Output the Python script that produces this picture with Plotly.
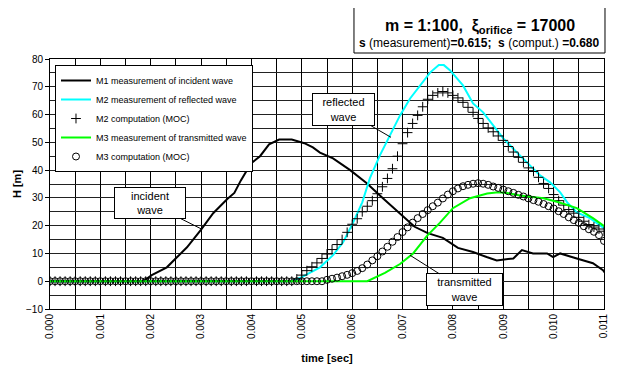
import numpy as np
import plotly.graph_objects as go

# ---------------- data ----------------
# M1 measurement of incident wave (time in s, H in m)
t_m1 = [0, 0.00185, 0.00202, 0.00232, 0.00252, 0.00272, 0.00300, 0.00324, 0.00352, 0.00366,
        0.00379, 0.00399, 0.00417, 0.00435, 0.00455, 0.00480, 0.00505, 0.00522, 0.00536,
        0.00562, 0.00596, 0.00629, 0.00661, 0.00695, 0.00724, 0.00750, 0.00780, 0.00810,
        0.00840, 0.00867, 0.00887, 0.00920, 0.00937, 0.00959, 0.00987, 0.00999, 0.01013,
        0.01046, 0.01078, 0.01098, 0.01110]
h_m1 = [0, 0, 2.2, 5.0, 8.6, 12.2, 18.6, 24.5, 29.6, 31.8,
        36.3, 42.4, 45.0, 49.3, 51.0, 51.0, 49.7, 48.2, 46.3,
        44.2, 40.0, 35.3, 29.9, 24.5, 19.6, 17.3, 15.6, 12.0,
        10.5, 8.7, 7.5, 8.2, 11.2, 10.0, 10.0, 8.7, 10.0,
        8.2, 6.5, 4.0, 1.0]

# M2 measurement of reflected wave
t_m2 = [0, 0.00480, 0.00500, 0.00536, 0.00562, 0.00582, 0.00602, 0.00620, 0.00635, 0.00655,
        0.00675, 0.00695, 0.00715, 0.00735, 0.00755, 0.00772, 0.00782, 0.00794, 0.00820,
        0.00840, 0.00860, 0.00880, 0.00900, 0.00927, 0.00953, 0.00973, 0.00993, 0.01013,
        0.01027, 0.01046, 0.01072, 0.01092, 0.01110]
h_m2 = [0, 0, 1.5, 5.0, 9.4, 14.0, 21.2, 28.4, 37.0, 45.3,
        52.5, 59.7, 65.8, 70.5, 75.2, 77.8, 77.8, 76.0, 70.5,
        64.0, 60.8, 56.1, 51.4, 46.4, 41.7, 38.1, 35.6, 32.0,
        28.4, 24.8, 22.7, 20.1, 17.8]

# M3 measurement of transmitted wave
t_m3 = [0, 0.00630, 0.00665, 0.00695, 0.00721, 0.00749, 0.00774, 0.00800, 0.00834, 0.00868,
        0.00890, 0.00907, 0.00933, 0.00980, 0.01010, 0.01046, 0.01078, 0.01110]
h_m3 = [0, 0, 3.0, 6.2, 10.0, 16.4, 21.0, 26.3, 29.9, 31.6,
        32.0, 31.8, 30.9, 29.9, 28.4, 26.3, 22.7, 18.6]

# MOC computations, sampled every 0.0001 s from 0 to 0.011 s
t_moc = np.round(np.arange(111) * 0.0001, 4)
h_m2_moc = [0] * 49 + [
    0.8, 2.2, 3.8, 5.2, 6.6, 8.2, 9.8, 11.4, 13.2, 15.0,
    17.6, 20.5, 22.5, 25.0, 27.0, 29.0, 31.5, 34.0, 37.0, 40.5,
    45.0, 49.5, 53.5, 56.8, 59.7, 62.8, 65.5, 66.9, 67.8, 68.3,
    67.8, 66.9, 66.0, 64.4, 62.6, 60.8, 58.6, 56.8, 55.2, 53.8,
    52.3, 50.7, 48.5, 46.5, 44.6, 42.8, 40.8, 39.5, 37.4, 35.2,
    33.4, 31.2, 29.0, 27.4, 25.8, 24.5, 23.0, 21.6, 20.4, 19.5,
    18.8, 18.0]
h_m3_moc = [0] * 55 + [
    0.5, 0.9, 1.3, 1.8, 2.3, 2.9, 3.7, 4.7, 6.0, 7.5,
    9.0, 10.7, 12.4, 14.2, 15.9, 17.7, 19.4, 21.1, 22.7, 24.2,
    25.6, 27.0, 28.3, 29.8, 31.2, 32.4, 33.4, 34.2, 34.7, 35.1,
    35.3, 35.1, 34.7, 34.1, 33.6, 33.0, 32.4, 31.8, 31.1, 30.5,
    29.8, 29.2, 28.6, 27.8, 27.0, 26.2, 25.2, 24.2, 23.0, 22.0,
    21.0, 19.8, 18.7, 17.8, 16.6, 14.5]

names = ["M1 measurement of incident wave",
         "M2 measurement of reflected wave",
         "M2 computation (MOC)",
         "M3 measurement of transmitted wave",
         "M3 computation (MOC)"]

FONT = "Liberation Sans, Arial, sans-serif"

fig = go.Figure()
fig.add_trace(go.Scatter(x=t_m1, y=h_m1, mode="lines", name=names[0],
                         line=dict(color="black", width=2)))
fig.add_trace(go.Scatter(x=t_m2, y=h_m2, mode="lines", name=names[1],
                         line=dict(color="#00ffff", width=2)))
fig.add_trace(go.Scatter(x=t_moc, y=h_m2_moc, mode="markers", name=names[2],
                         marker=dict(symbol="cross-thin", size=7,
                                     line=dict(color="black", width=1))))
fig.add_trace(go.Scatter(x=t_m3, y=h_m3, mode="lines", name=names[3],
                         line=dict(color="#00ff00", width=2)))
fig.add_trace(go.Scatter(x=t_moc, y=h_m3_moc, mode="markers", name=names[4],
                         marker=dict(symbol="circle-open", size=7, color="black",
                                     line=dict(color="black", width=1))))

# page has an 8px body margin: figure is shifted by (8, 8)
fig.update_layout(
    width=605, height=356,
    margin=dict(l=42, r=9, t=51, b=55, autoexpand=False),
    paper_bgcolor="white", plot_bgcolor="white",
    font=dict(family=FONT, color="black", size=10),
    showlegend=True,
    legend=dict(x=0.009, y=0.976, xanchor="left", yanchor="top",
                bgcolor="white", bordercolor="black", borderwidth=1,
                font=dict(size=9, family=FONT), tracegroupgap=0),
)

fig.update_xaxes(
    range=[0, 0.011], dtick=0.001, tick0=0, tickformat=".3f", tickangle=-90,
    showgrid=True, gridcolor="black", gridwidth=1,
    minor=dict(dtick=0.0005, showgrid=True, gridcolor="black", gridwidth=1),
    showline=True, linecolor="black", linewidth=1, mirror=True,
    zeroline=False, ticks="",
    tickfont=dict(size=10),
    title=dict(text="<b>time [sec]</b>", font=dict(size=11), standoff=26),
)
fig.update_yaxes(
    range=[-10, 80], dtick=10, tick0=0,
    showgrid=True, gridcolor="#222", gridwidth=1,
    minor=dict(dtick=5, showgrid=True, gridcolor="#222", gridwidth=1),
    showline=True, linecolor="black", linewidth=1, mirror=True,
    zeroline=False, ticks="outside", ticklen=4, tickcolor="black",
    tickfont=dict(size=10),
    title=dict(text="<b>H [m]</b>", font=dict(size=11), standoff=2),
)

# title box (frame + two text lines)
fig.add_shape(type="rect", xref="paper", yref="paper",
              x0=0.5487, x1=1.0018, y0=1.024, y1=1.208,
              line=dict(color="black", width=1), fillcolor="white", layer="above")
fig.add_annotation(
    xref="paper", yref="paper", x=0.7753, y=1.13, xanchor="center", yanchor="middle",
    text="<b>m = 1:100,  ξ<sub>orifice</sub> = 17000</b>",
    font=dict(size=16, family=FONT, color="black"), showarrow=False)
fig.add_annotation(
    xref="paper", yref="paper", x=0.7753, y=1.064, xanchor="center", yanchor="middle",
    text="<b>s</b> (measurement)<b>=0.615;</b>  <b>s</b> (comput.) <b>=0.680</b>",
    font=dict(size=12, family=FONT, color="black"), showarrow=False)

# callouts
callouts = [
    ("incident<br>wave", 0.003018, 18.7, -52, -26, 70, 30),
    ("reflected<br>wave", 0.006771, 51.8, -47.5, -27.5, 61, 31),
    ("transmitted<br>wave", 0.007149, 9.35, 54.5, 34.5, 75, 31),
]
for txt, xa, ya, ax, ay, w, h in callouts:
    fig.add_annotation(
        x=xa, y=ya, xref="x", yref="y", ax=ax, ay=ay, axref="pixel", ayref="pixel",
        text=txt, showarrow=True, arrowhead=0, arrowwidth=1, arrowcolor="black",
        font=dict(size=11, family=FONT, color="black"),
        bgcolor="white", bordercolor="black", borderwidth=1, borderpad=0,
        width=w, height=h, align="center")

fig.write_html("out.html")
